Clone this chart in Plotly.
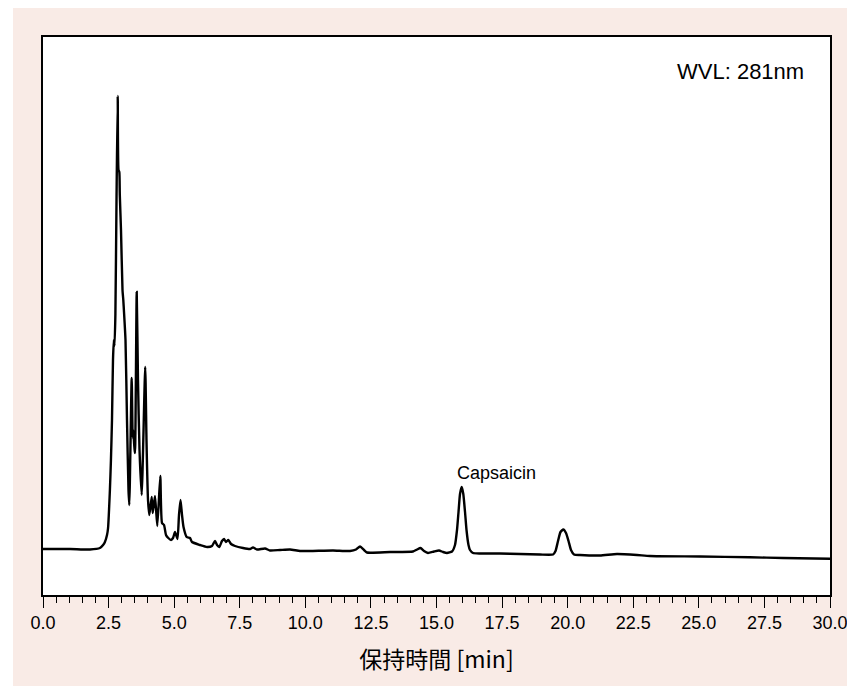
import plotly.graph_objects as go

# Retention time (min) and detector signal (arbitrary units, baseline ~0)
time_min = [
    0.00, 1.03, 1.79, 2.17, 2.29, 2.36, 2.44, 2.48, 2.55, 2.59, 2.63,
    2.668, 2.700, 2.726, 2.760, 2.802, 2.848, 2.878, 2.909, 2.928, 2.973,
    3.031, 3.061, 3.088, 3.145, 3.202, 3.259, 3.290, 3.381, 3.419, 3.442,
    3.477, 3.507, 3.572, 3.621, 3.679, 3.762, 3.896, 3.945, 4.003, 4.052,
    4.144, 4.182, 4.269, 4.357, 4.471, 4.536, 4.613, 4.689, 4.776, 4.879,
    4.956, 5.032, 5.127, 5.184, 5.242, 5.299, 5.356, 5.478, 5.604, 5.680,
    5.985, 6.252, 6.442, 6.557, 6.633, 6.721, 6.823, 6.900, 6.976, 7.064,
    7.167, 7.319, 7.624, 7.891, 8.005, 8.158, 8.463, 8.653, 9.034, 9.416,
    9.797, 10.178, 11.055, 11.703, 11.932, 12.084, 12.237, 12.351, 13.228,
    14.104, 14.257, 14.390, 14.524, 14.676, 14.905, 15.096, 15.248, 15.400,
    15.591, 15.705, 15.782, 15.839, 15.896, 15.961, 16.022, 16.087, 16.144,
    16.220, 16.277, 16.392, 16.659, 17.421, 18.183, 18.946, 19.442, 19.537,
    19.632, 19.727, 19.834, 19.937, 20.032, 20.127, 20.242, 20.471, 21.233,
    21.881, 22.644, 23.139, 25.045, 26.951, 28.209, 30.000,
]
signal = [
    0, 0, -0.5, 1, 4, 7, 14, 21, 59, 89, 129,
    189, 209, 203, 235, 349, 453, 379, 377, 354, 319,
    259, 249, 237, 209, 129, 59, 44, 171, 111, 119,
    104, 96, 257, 169, 99, 54, 182, 109, 49, 34,
    52, 36, 53, 23, 73, 26, 24, 14, 11, 9,
    11, 17, 10, 34, 49, 34, 22, 12, 11, 7,
    4, 2, 3, 8, 4, 2, 8, 10, 7, 9,
    5, 3, 1, 0, 1.5, -0.5, 0.5, -1.5, -1, -0.5,
    -2, -2, -1.5, -2, -0.5, 2.5, -1, -3.5, -3,
    -2.5, -0.5, 1, -2, -4, -2.5, -1.5, -3, -4,
    -2.5, 4, 19, 37, 55, 62, 55, 37, 19,
    4, -1, -4, -4.5, -4.5, -5, -5.5, -5.5, -2,
    8, 17, 19.5, 16, 8, -1, -5.5, -6, -6.5,
    -5, -6, -7, -7.5, -8.3, -9, -9.7,
]

x_ticks = [0, 2.5, 5, 7.5, 10, 12.5, 15, 17.5, 20, 22.5, 25, 27.5, 30]
x_tick_labels = ["0.0", "2.5", "5.0", "7.5", "10.0", "12.5", "15.0",
                 "17.5", "20.0", "22.5", "25.0", "27.5", "30.0"]

W, H = 847, 678
L, R, T, B = 35, 25, 29, 91
pw, ph = W - L - R, H - T - B

fig = go.Figure()
fig.add_trace(go.Scatter(
    x=time_min, y=signal, mode="lines",
    line=dict(color="black", width=2.4, shape="spline", smoothing=0.5),
    hoverinfo="skip", showlegend=False,
))

# thin white strip on the left edge of the pink panel
fig.add_shape(
    type="rect", xref="paper", yref="paper", layer="below",
    x0=-(L + 2) / pw, x1=-(L - 5) / pw,
    y0=-(B + 2) / ph, y1=(ph + T + 2) / ph,
    fillcolor="white", line=dict(width=0),
)

fig.add_annotation(
    x=15.72, y=76, xref="x", yref="y", text="Capsaicin", showarrow=False,
    xanchor="left", yanchor="middle",
    font=dict(family="Liberation Sans", size=18, color="black"),
)
fig.add_annotation(
    x=29.1, y=478, xref="x", yref="y", text="WVL: 281nm", showarrow=False,
    xanchor="right", yanchor="middle",
    font=dict(family="Liberation Sans", size=22, color="black"),
)

fig.update_layout(
    width=W, height=H,
    margin=dict(l=L, r=R, t=T, b=B, autoexpand=False),
    paper_bgcolor="#f9ebe6", plot_bgcolor="white",
    xaxis=dict(
        range=[0, 30], tickvals=x_ticks, ticktext=x_tick_labels,
        ticks="outside", ticklen=11, tickwidth=1.3, tickcolor="black",
        minor=dict(dtick=0.5, tick0=0, ticks="outside", ticklen=6,
                   tickwidth=1.3, tickcolor="black"),
        showline=True, linecolor="black", linewidth=1.6, mirror=True,
        showgrid=False, zeroline=False,
        tickfont=dict(family="Liberation Sans", size=18, color="black"),
        title=dict(text="保持時間 [min]", standoff=19,
                   font=dict(family="Noto Sans CJK JP", size=23, color="black")),
    ),
    yaxis=dict(
        range=[-46, 512], showticklabels=False, ticks="",
        showline=True, linecolor="black", linewidth=1.6, mirror=True,
        showgrid=False, zeroline=False,
    ),
)

fig.write_html("out.html")
